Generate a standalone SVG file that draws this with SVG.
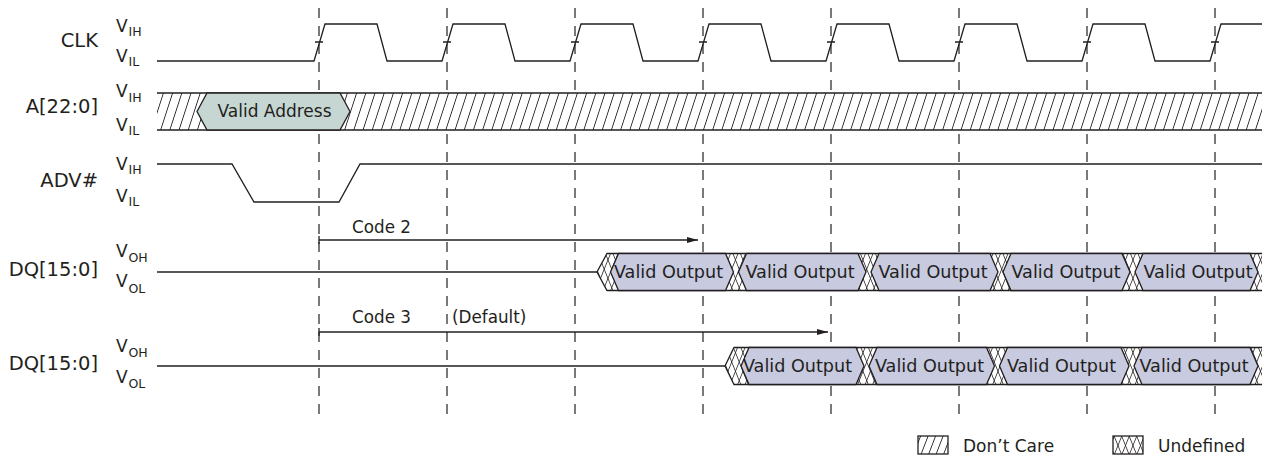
<svg xmlns="http://www.w3.org/2000/svg" width="1264" height="462" viewBox="0 0 1264 462">
<defs>
<style>
.ln{fill:none;stroke:#231f20;stroke-width:1.3}
.dash{fill:none;stroke:#231f20;stroke-width:1.2;stroke-dasharray:10 8}
.lbl{font-family:"DejaVu Sans",sans-serif;font-size:19.5px;fill:#231f20;text-anchor:end}
.v{font-family:"DejaVu Sans",sans-serif;font-size:17px;fill:#231f20}
.sub{font-family:"DejaVu Sans",sans-serif;font-size:12.5px;fill:#231f20}
.vo{font-family:"DejaVu Sans",sans-serif;font-size:17.6px;fill:#231f20;text-anchor:middle}
.va{font-family:"DejaVu Sans",sans-serif;font-size:17px;fill:#231f20;text-anchor:middle}
.code{font-family:"DejaVu Sans",sans-serif;font-size:16.8px;fill:#231f20}
.leg{font-family:"DejaVu Sans",sans-serif;font-size:17px;fill:#231f20}
.out{fill:#c8cadf;stroke:#231f20;stroke-width:1.3}
.addr{fill:#c6d7d3;stroke:#231f20;stroke-width:1.3}
.wh{fill:#ffffff;stroke:none}
</style>
<pattern id="dc" width="9.2" height="20" patternUnits="userSpaceOnUse" patternTransform="skewX(-18)">
<rect x="0" y="0" width="0.9" height="20" fill="#231f20"/>
</pattern>
<pattern id="dcs" width="7.5" height="20" patternUnits="userSpaceOnUse" patternTransform="skewX(-21)">
<rect x="0" y="0" width="0.9" height="20" fill="#231f20"/>
</pattern>
<pattern id="xa" width="7.5" height="20" patternUnits="userSpaceOnUse" patternTransform="skewX(22)">
<rect x="0" y="0" width="0.8" height="20" fill="#231f20"/>
</pattern>
<pattern id="xb" width="7.5" height="20" patternUnits="userSpaceOnUse" patternTransform="skewX(-22)">
<rect x="0" y="0" width="0.8" height="20" fill="#231f20"/>
</pattern>
<marker id="ah" markerUnits="userSpaceOnUse" markerWidth="11" markerHeight="6" refX="11" refY="3" orient="auto">
<path d="M0,0 L11,3 L0,6 z" fill="#231f20"/>
</marker>
</defs>
<rect x="0" y="0" width="1264" height="462" fill="#ffffff"/>

<g id="clock-guides">
<path class="dash" d="M319,8 V420 M447,8 V420 M575,8 V420 M703,8 V420 M831,8 V420 M959,8 V420 M1087,8 V420 M1215,8 V420"/>
</g>

<g id="clk">
<text class="lbl" x="98" y="46.7">CLK</text>
<text class="v" x="116" y="31.7">V</text><text class="sub" x="128.5" y="36">IH</text>
<text class="v" x="116" y="61.7">V</text><text class="sub" x="128.5" y="66">IL</text>
<path class="ln" d="M157,61 H314 L325,24 H377 L387,61 H442 L453,24 H505 L515,61 H570 L581,24 H633 L643,61 H698 L709,24 H761 L771,61 H826 L837,24 H889 L899,61 H954 L965,24 H1017 L1027,61 H1082 L1093,24 H1145 L1155,61 H1210 L1221,24 H1262"/>
<path class="ln" d="M315,42 H323 M443,42 H451 M571,42 H579 M699,42 H707 M827,42 H835 M955,42 H963 M1083,42 H1091 M1211,42 H1219"/>
</g>

<g id="address">
<text class="lbl" x="98" y="113.3">A[22:0]</text>
<text class="v" x="116" y="97.3">V</text><text class="sub" x="128.5" y="101.5">IH</text>
<text class="v" x="116" y="131">V</text><text class="sub" x="128.5" y="135.3">IL</text>
<rect class="wh" x="157" y="93" width="1105" height="37"/>
<rect x="157" y="93" width="1105" height="37" fill="url(#dc)"/>
<path class="ln" d="M157,93 H1262 M157,130 H1262"/>
<polygon class="addr" points="197,111.5 207,93 340,93 350,111.5 340,130 207,130"/>
<text class="va" x="274.5" y="116.5">Valid Address</text>
</g>

<g id="adv">
<text class="lbl" x="98" y="186.7">ADV#</text>
<text class="v" x="116" y="170">V</text><text class="sub" x="128.5" y="174">IH</text>
<text class="v" x="116" y="201.7">V</text><text class="sub" x="128.5" y="206">IL</text>
<path class="ln" d="M157,164 H232 L254,202 H339 L360,164 H1262"/>
</g>

<g id="dq-code2">
<text class="lbl" x="98" y="276">DQ[15:0]</text>
<text class="v" x="116" y="256.5">V</text><text class="sub" x="128.5" y="262">OH</text>
<text class="v" x="116" y="287.3">V</text><text class="sub" x="128.5" y="292.8">OL</text>
<path class="ln" d="M157,272 H597"/>
<polygon class="wh" points="597,272 607,253.5 1262,253.5 1262,290.5 607,290.5"/>
<polygon points="597,272 607,253.5 1262,253.5 1262,290.5 607,290.5" fill="url(#xa)"/>
<polygon points="597,272 607,253.5 1262,253.5 1262,290.5 607,290.5" fill="url(#xb)"/>
<path class="ln" d="M1262,253.5 H607 L597,272 L607,290.5 H1262"/>
<polygon class="out" points="610.5,272 618.5,253.5 725.5,253.5 733.5,272 725.5,290.5 618.5,290.5"/>
<polygon class="out" points="738.5,272 746.5,253.5 858,253.5 866,272 858,290.5 746.5,290.5"/>
<polygon class="out" points="871,272 879,253.5 990,253.5 998,272 990,290.5 879,290.5"/>
<polygon class="out" points="1003,272 1011,253.5 1122,253.5 1130,272 1122,290.5 1011,290.5"/>
<polygon class="out" points="1135,272 1143,253.5 1250,253.5 1258,272 1250,290.5 1143,290.5"/>
<text class="vo" x="668.5" y="277.5">Valid Output</text>
<text class="vo" x="800" y="277.5">Valid Output</text>
<text class="vo" x="933" y="277.5">Valid Output</text>
<text class="vo" x="1066" y="277.5">Valid Output</text>
<text class="vo" x="1198" y="277.5">Valid Output</text>
</g>

<g id="dq-code3">
<text class="lbl" x="98" y="370">DQ[15:0]</text>
<text class="v" x="116" y="351.7">V</text><text class="sub" x="128.5" y="357">OH</text>
<text class="v" x="116" y="382.5">V</text><text class="sub" x="128.5" y="388">OL</text>
<path class="ln" d="M157,366 H725"/>
<polygon class="wh" points="725,366 734,347.5 1262,347.5 1262,384.5 734,384.5"/>
<polygon points="725,366 734,347.5 1262,347.5 1262,384.5 734,384.5" fill="url(#xa)"/>
<polygon points="725,366 734,347.5 1262,347.5 1262,384.5 734,384.5" fill="url(#xb)"/>
<path class="ln" d="M1262,347.5 H734 L725,366 L734,384.5 H1262"/>
<polygon class="out" points="741,366 749,347.5 856,347.5 864,366 856,384.5 749,384.5"/>
<polygon class="out" points="869,366 877,347.5 986.5,347.5 994.5,366 986.5,384.5 877,384.5"/>
<polygon class="out" points="999.5,366 1007.5,347.5 1121,347.5 1129,366 1121,384.5 1007.5,384.5"/>
<polygon class="out" points="1134,366 1142,347.5 1250,347.5 1258,366 1250,384.5 1142,384.5"/>
<text class="vo" x="797.5" y="371.5">Valid Output</text>
<text class="vo" x="929.5" y="371.5">Valid Output</text>
<text class="vo" x="1061.5" y="371.5">Valid Output</text>
<text class="vo" x="1194" y="371.5">Valid Output</text>
</g>

<g id="connectors">
<path class="ln" d="M319,236 V244 M319,328 V336"/>
<line class="ln" x1="319" y1="240" x2="698" y2="240" marker-end="url(#ah)"/>
<line class="ln" x1="319" y1="332" x2="828" y2="332" marker-end="url(#ah)"/>
<text class="code" x="352" y="232.7">Code 2</text>
<text class="code" x="352" y="323.3">Code 3</text>
<text class="code" x="452" y="323.3">(Default)</text>
</g>

<g id="legend">
<rect class="wh" x="918" y="436" width="30" height="18"/>
<rect x="918" y="436" width="30" height="18" fill="url(#dcs)"/>
<rect class="ln" x="918" y="436" width="30" height="18"/>
<text class="leg" x="963" y="452">Don’t Care</text>
<rect class="wh" x="1113" y="436" width="30" height="18"/>
<rect x="1113" y="436" width="30" height="18" fill="url(#xa)"/>
<rect x="1113" y="436" width="30" height="18" fill="url(#xb)"/>
<rect class="ln" x="1113" y="436" width="30" height="18"/>
<text class="leg" x="1158" y="452">Undefined</text>
</g>
</svg>
